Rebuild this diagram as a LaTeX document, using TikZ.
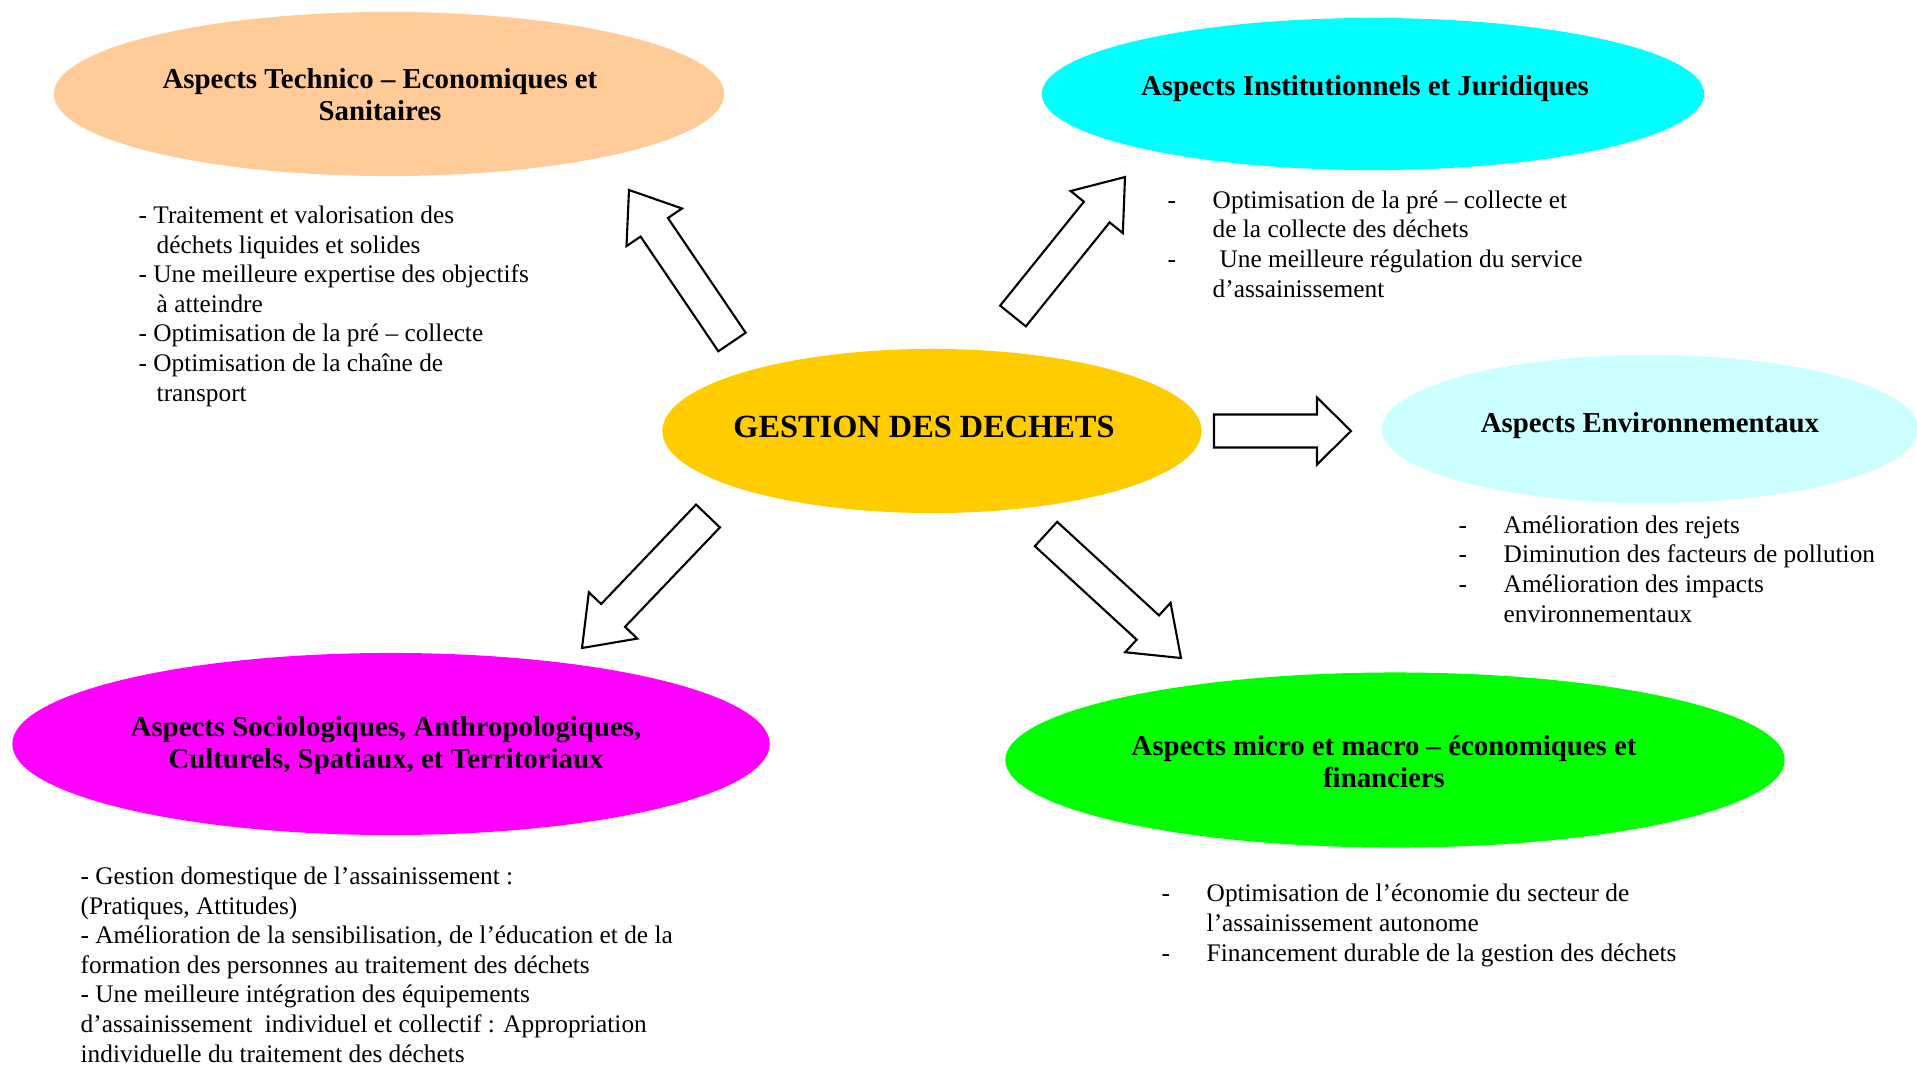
\documentclass[tikz,border=0pt]{standalone}
\usepackage{fontspec}
\setmainfont{Liberation Serif}
\usetikzlibrary{shapes.geometric, calc}

% block arrow from tail (#2) to tip (#3), #1 = head length
\newcommand{\blockarrow}[3][0.45cm]{%
  \coordinate (#2-#3-hb) at ($(#3)!#1!(#2)$);
  \draw[blockarrow] ($(#2)!0.165cm!90:(#3)$) -- ($(#2-#3-hb)!0.165cm!90:(#3)$)
    -- ($(#2-#3-hb)!0.335cm!90:(#3)$) -- (#3)
    -- ($(#2-#3-hb)!0.335cm!-90:(#3)$) -- ($(#2-#3-hb)!0.165cm!-90:(#3)$)
    -- ($(#2)!0.165cm!-90:(#3)$) -- cycle;
}
\newcommand{\dashitem}[1]{\makebox[0.45cm][l]{-}#1}
\newcommand{\tabline}[1]{\hspace*{0.45cm}#1}

\begin{document}
\begin{tikzpicture}[x=0.01cm, y=-0.01cm,
    blob/.style={ellipse, draw=none, inner sep=0pt},
    heading/.style={font=\bfseries\fontsize{8.2}{9.1}\selectfont, align=center, anchor=base, inner sep=0pt},
    bullets/.style={font=\fontsize{7.2}{8.4}\selectfont, align=left, anchor=base west, inner sep=0pt},
    blockarrow/.style={draw=black, fill=white, line width=0.6pt, line join=miter}
]

% Define colors
\definecolor{peach}{RGB}{255,204,153}
\definecolor{aqua}{RGB}{0,255,255}
\definecolor{gold}{RGB}{255,204,0}
\definecolor{paleaqua}{RGB}{204,255,255}
\definecolor{pink}{RGB}{255,0,255}
\definecolor{lime}{RGB}{0,255,0}

\useasboundingbox (0,0) rectangle (1917,1066);

% --- Ellipses ---
\node[blob, fill=peach, minimum width=6.70cm, minimum height=1.64cm] (technico) at (389,94) {};
\node[blob, fill=aqua, minimum width=6.62cm, minimum height=1.52cm] (institution) at (1373,94) {};
\node[blob, fill=gold, minimum width=5.39cm, minimum height=1.64cm] (gestion) at (932,431) {};
\node[blob, fill=paleaqua, minimum width=5.36cm, minimum height=1.48cm] (environ) at (1650,429) {};
\node[blob, fill=pink, minimum width=7.57cm, minimum height=1.82cm] (socio) at (391,744) {};
\node[blob, fill=lime, minimum width=7.79cm, minimum height=1.75cm] (finance) at (1395,760) {};

% --- Headings (anchor base = last line) ---
\node[heading] (technico-title) at (380,120) {Aspects Technico -- Economiques et\\Sanitaires};
\node[heading] (institution-title) at (1365,95) {Aspects Institutionnels et Juridiques};
\node[heading, font=\bfseries\fontsize{9.2}{10}\selectfont] (gestion-title) at (924,437) {GESTION DES DECHETS};
\node[heading] (environ-title) at (1650,432) {Aspects Environnementaux};
\node[heading] (socio-title) at (386,768) {Aspects Sociologiques, Anthropologiques,\\Culturels, Spatiaux, et Territoriaux};
\node[heading] (finance-title) at (1384,787) {Aspects micro et macro -- économiques et\\financiers};

% --- Arrows ---
\coordinate (t1) at (732,342); \coordinate (h1) at (629,190);
\coordinate (t2) at (1013,316); \coordinate (h2) at (1125,177);
\coordinate (t3) at (1214,431); \coordinate (h3) at (1351,431);
\coordinate (t4) at (708,516); \coordinate (h4) at (582,648);
\coordinate (t5) at (1046,534); \coordinate (h5) at (1181,658);
\foreach \a/\b in {t1/h1, t2/h2, t4/h4, t5/h5} {
    \blockarrow{\a}{\b}
}
\blockarrow[0.34cm]{t3}{h3}

% --- Lists (anchor base = last line) ---
\node[bullets] (technico-list) at (138,401) {%
- Traitement et valorisation des\\
\hspace*{0.18cm}déchets liquides et solides\\
- Une meilleure expertise des objectifs\\
\hspace*{0.18cm}à atteindre\\
- Optimisation de la pré -- collecte\\
- Optimisation de la chaîne de\\
\hspace*{0.18cm}transport};

\node[bullets] (institution-list) at (1167,297) {%
\dashitem{Optimisation de la pré -- collecte et}\\
\tabline{de la collecte des déchets}\\
\dashitem{\hspace*{0.07cm}Une meilleure régulation du service}\\
\tabline{d’assainissement}};

\node[bullets] (environ-list) at (1458,622) {%
\dashitem{Amélioration des rejets}\\
\dashitem{Diminution des facteurs de pollution}\\
\dashitem{Amélioration des impacts}\\
\tabline{environnementaux}};

\node[bullets] (socio-list) at (80,1062) {%
- Gestion domestique de l’assainissement :\\
(Pratiques, Attitudes)\\
- Amélioration de la sensibilisation, de l’éducation et de la\\
formation des personnes au traitement des déchets\\
- Une meilleure intégration des équipements\\
d’assainissement\ \ individuel et collectif : Appropriation\\
individuelle du traitement des déchets};

\node[bullets] (finance-list) at (1161,961) {%
\dashitem{Optimisation de l’économie du secteur de}\\
\tabline{l’assainissement autonome}\\
\dashitem{Financement durable de la gestion des déchets}};

\end{tikzpicture}
\end{document}
